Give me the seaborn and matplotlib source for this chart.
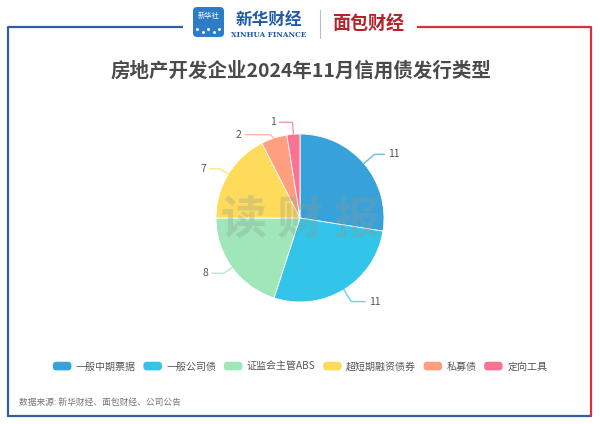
import numpy as np
import matplotlib
matplotlib.use("Agg")
import matplotlib.pyplot as plt
import matplotlib.patches as mpatches
from matplotlib.legend_handler import HandlerPatch
import seaborn as sns

# ---------------- data ----------------
categories = ["一般中期票据", "一般公司债", "证监会主管ABS", "超短期融资债券", "私募债", "定向工具"]
values = [11, 11, 8, 7, 2, 1]
colors = ["#37A2DA", "#32C5E9", "#9FE6B8", "#FFDB5C", "#FF9F7F", "#FB7293"]
title = "房地产开发企业2024年11月信用债发行类型"
source = "数据来源: 新华财经、面包财经、公司公告"

sns.set_theme(style="white")
plt.rcParams["font.family"] = ["Noto Sans CJK SC", "DejaVu Sans"]

W, H = 600, 424
fig = plt.figure(figsize=(6, 4.24), dpi=100)
ax = fig.add_axes([0, 0, 1, 1])
ax.set_xlim(0, W)
ax.set_ylim(0, H)
ax.axis("off")

def Y(py):
    return H - py

# ---------------- frame ----------------
blue, red = "#2F5DA6", "#D3343C"
lw = 1.6
ax.plot([8, 183], [Y(27), Y(27)], color=blue, lw=lw, solid_capstyle="butt")
ax.plot([8, 8], [Y(27), Y(416)], color=blue, lw=lw)
ax.plot([8, 591], [Y(416), Y(416)], color=blue, lw=lw)
ax.plot([417, 591], [Y(27), Y(27)], color=red, lw=lw, solid_capstyle="butt")
ax.plot([591, 591], [Y(27), Y(416)], color=red, lw=lw)

# ---------------- logo ----------------
ax.add_patch(mpatches.FancyBboxPatch((193, Y(37)), 31, 30,
             boxstyle="round,pad=0,rounding_size=4", fc="#2E7CC4", ec="none"))
ax.text(208.5, Y(16), "新华社", color="white", fontsize=5.2, ha="center", va="center")
for i in range(5):
    ax.scatter(197 + i * 5.5, Y(29 + (i % 2) * 3), s=1.2, color="white")
ax.text(269, Y(20), "新华财经", color="#1F5BA8", fontsize=12, ha="center", va="center",
        fontweight="bold", style="italic")
ax.text(269, Y(35), "XINHUA FINANCE", color="#1F5BA8", fontsize=5.2, ha="center",
        va="center", family=["DejaVu Serif"], fontweight="bold")
ax.plot([320, 320], [Y(10), Y(38)], color="#BBBBBB", lw=0.8)
ax.text(368, Y(24), "面包财经", color="#B5232A", fontsize=13, ha="center", va="center",
        fontweight="bold")

# ---------------- title ----------------
ax.text(301, Y(71), title, fontsize=14, fontweight="bold", color="#4A4A4A",
        ha="center", va="center")

# ---------------- pie ----------------
cx, cy, r = 300, Y(218), 84
wedges, _ = ax.pie(values, colors=colors, startangle=90, counterclock=False,
                   center=(cx, cy), radius=r, frame=True,
                   wedgeprops=dict(linewidth=0.6, edgecolor="white"))
ax.set_xlim(0, W)
ax.set_ylim(0, H)
ax.set_aspect("equal")
ax.axis("off")

# watermark
ax.text(300, Y(222), "读 财 报", fontsize=33, fontweight="bold", color="#8A9A94",
        alpha=0.3, ha="center", va="center", zorder=5)

# labels with leader lines
total = sum(values)
cum = np.cumsum([0] + values)
len1 = [14, 14, 10, 10, 12, 12]
len2 = [10, 14, 12, 10, 25, 13]
dys = [0, 0, 0, 0, -8, 0]
for i, v in enumerate(values):
    theta = np.deg2rad((cum[i] + v / 2) / total * 360)
    dx, dy = np.sin(theta), np.cos(theta)
    p0 = (cx + r * dx, cy + r * dy)
    p1 = (cx + (r + len1[i]) * dx, cy + (r + len1[i]) * dy + dys[i])
    s = 1 if dx >= 0 else -1
    p2 = (p1[0] + s * len2[i], p1[1])
    ax.plot([p0[0], p1[0], p2[0]], [p0[1], p1[1], p2[1]], color=colors[i],
            lw=1.0, alpha=0.75, zorder=3)
    ax.text(p2[0] + s * 4, p2[1], str(v), fontsize=7.5, color="#555555",
            ha="left" if s > 0 else "right", va="center")

# ---------------- legend ----------------
class RoundHandler(HandlerPatch):
    def create_artists(self, legend, orig_handle, xdescent, ydescent, width,
                       height, fontsize, trans):
        p = mpatches.FancyBboxPatch((-xdescent, -ydescent), width, height,
                                    boxstyle="round,pad=0,rounding_size=2.5",
                                    fc=orig_handle.get_facecolor(), ec="none",
                                    transform=trans)
        return [p]

handles = [mpatches.Patch(facecolor=c, label=l) for c, l in zip(colors, categories)]
leg = fig.legend(handles=handles, loc="center", bbox_to_anchor=(0.5, 1 - 366.5 / H),
                 ncol=6, frameon=False, fontsize=7.2, handlelength=1.85,
                 handleheight=0.95, handletextpad=0.45, columnspacing=0.75,
                 handler_map={mpatches.Patch: RoundHandler()})
for t in leg.get_texts():
    t.set_color("#555555")

# ---------------- source ----------------
ax.text(19, Y(402), source, fontsize=6.3, color="#777777", ha="left", va="center")

fig.savefig("out.png", dpi=100)
